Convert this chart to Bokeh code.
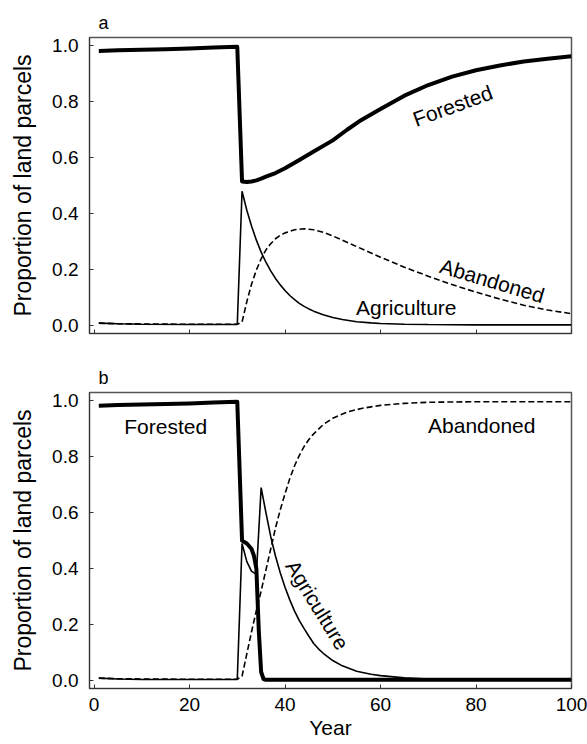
from bokeh.plotting import figure
from bokeh.layouts import column
from bokeh.models import Range1d, FixedTicker, PrintfTickFormatter
from bokeh.core.properties import value
from bokeh.embed import file_html
from bokeh.resources import INLINE

# ---------------- data: panel a ----------------
years_a_forest = [1, 5, 10, 15, 20, 25, 30, 31, 32, 33, 34, 35, 36, 38, 40, 43, 46,
                  50, 53, 56, 60, 65, 70, 75, 80, 85, 90, 95, 100]
forest_a = [0.982, 0.984, 0.986, 0.988, 0.991, 0.994, 0.997, 0.515, 0.513, 0.515,
            0.519, 0.525, 0.532, 0.545, 0.562, 0.592, 0.622, 0.662, 0.700, 0.735,
            0.774, 0.822, 0.860, 0.890, 0.913, 0.930, 0.944, 0.954, 0.963]

years_a_agri = [1, 5, 10, 20, 30, 31, 32, 33, 34, 35, 36, 37, 38, 39, 40, 41, 42,
                43, 44, 45, 46, 48, 50, 52, 55, 58, 60, 65, 70, 80, 100]
agri_a = [0.008, 0.006, 0.004, 0.003, 0.003, 0.480, 0.412, 0.355, 0.305, 0.262,
          0.226, 0.195, 0.168, 0.145, 0.125, 0.107, 0.092, 0.079, 0.068, 0.059,
          0.051, 0.038, 0.028, 0.021, 0.013, 0.009, 0.007, 0.004, 0.003, 0.002, 0.002]

years_a_aband = [1, 5, 10, 20, 30, 31, 32, 33, 34, 35, 36, 37, 38, 39, 40, 42, 44,
                 46, 48, 50, 55, 60, 65, 70, 75, 80, 85, 90, 95, 100]
aband_a = [0.008, 0.006, 0.005, 0.004, 0.004, 0.012, 0.085, 0.148, 0.198, 0.238,
           0.270, 0.292, 0.310, 0.322, 0.331, 0.342, 0.346, 0.342, 0.333, 0.320,
           0.282, 0.244, 0.208, 0.176, 0.146, 0.119, 0.094, 0.072, 0.055, 0.042]

# ---------------- data: panel b ----------------
years_b_forest = [1, 5, 10, 15, 20, 25, 30, 31, 32, 33, 33.5, 34, 34.5, 35, 35.5,
                  36, 40, 50, 60, 70, 80, 90, 100]
forest_b = [0.983, 0.985, 0.987, 0.989, 0.991, 0.994, 0.997, 0.500, 0.490, 0.470,
            0.445, 0.400, 0.180, 0.030, 0.005, 0.002, 0.002, 0.002, 0.002, 0.002,
            0.002, 0.002, 0.002]

years_b_agri = [1, 5, 10, 20, 30, 31, 32, 33, 34, 35, 36, 37, 38, 39, 40, 41, 42,
                43, 44, 45, 46, 47, 48, 50, 52, 55, 58, 60, 65, 70, 80, 100]
agri_b = [0.008, 0.005, 0.003, 0.003, 0.003, 0.490, 0.425, 0.390, 0.380, 0.690,
          0.600, 0.515, 0.445, 0.385, 0.333, 0.288, 0.248, 0.214, 0.185, 0.158,
          0.132, 0.113, 0.097, 0.071, 0.052, 0.033, 0.022, 0.017, 0.009, 0.005,
          0.002, 0.001]

years_b_aband = [1, 5, 10, 20, 30, 31, 32, 33, 34, 35, 36, 37, 38, 39, 40, 41, 42,
                 43, 44, 45, 46, 48, 50, 53, 56, 60, 65, 70, 80, 90, 100]
aband_b = [0.008, 0.006, 0.005, 0.004, 0.004, 0.015, 0.095, 0.175, 0.250, 0.320,
           0.395, 0.470, 0.545, 0.610, 0.668, 0.722, 0.768, 0.805, 0.837, 0.862,
           0.882, 0.915, 0.938, 0.960, 0.973, 0.984, 0.991, 0.995, 0.997, 0.997, 0.997]

x_ticks = [0, 20, 40, 60, 80, 100]
y_ticks = [0, 0.2, 0.4, 0.6, 0.8, 1.0]

FONT = "Liberation Sans"


def make_panel(letter, show_x_labels, border_top, border_bottom):
    p = figure(frame_width=482, frame_height=296,
               x_range=Range1d(-0.95, 100), y_range=Range1d(-0.029, 1.03),
               output_backend="svg", toolbar_location=None,
               min_border_left=89, min_border_right=16,
               min_border_top=border_top, min_border_bottom=border_bottom)
    p.background_fill_color = "white"
    p.border_fill_color = "white"
    p.grid.visible = False
    p.outline_line_color = "#555555"
    p.outline_line_width = 1.5

    p.title.text = letter
    p.title.text_font = FONT
    p.title.text_font_size = "18px"
    p.title.text_font_style = "normal"
    p.title.text_color = "black"
    p.title.align = "left"
    p.title.offset = 9
    p.title.standoff = 10

    for ax in (p.xaxis[0], p.yaxis[0]):
        ax.axis_line_color = "#333333"
        ax.axis_line_width = 1
        ax.major_tick_in = 4
        ax.major_tick_out = 0
        ax.minor_tick_line_color = None
        ax.major_tick_line_color = "#333333"
        ax.major_label_text_font = FONT
        ax.major_label_text_font_size = "19px"
        ax.major_label_text_color = "black"
        ax.axis_label_text_font = FONT
        ax.axis_label_text_font_style = "normal"
        ax.axis_label_text_color = "black"

    p.xaxis.ticker = FixedTicker(ticks=x_ticks)
    p.yaxis.ticker = FixedTicker(ticks=y_ticks)
    p.yaxis.formatter = PrintfTickFormatter(format="%.1f")
    p.yaxis.major_label_standoff = 11
    p.yaxis.axis_label = "Proportion of land parcels"
    p.yaxis.axis_label_text_font_size = "23px"
    p.yaxis.axis_label_standoff = 13

    if show_x_labels:
        p.xaxis.major_label_standoff = 9
        p.xaxis.axis_label = "Year"
        p.xaxis.axis_label_text_font_size = "21px"
        p.xaxis.axis_label_standoff = 2
    else:
        p.xaxis.major_label_overrides = {t: "" for t in x_ticks}
        p.xaxis.major_label_standoff = 0
    return p


def add_text(p, x, y, txt, angle=0.0):
    p.text(x=[x], y=[y], text=[txt], angle=angle, text_align="center",
           text_baseline="middle", text_font=value(FONT),
           text_font_size="21px", text_color="black")


# ---------- panel a ----------
pa = make_panel("a", False, 37, 20)
pa.line(years_a_agri, agri_a, line_color="black", line_width=1.6)
pa.line(years_a_aband, aband_a, line_color="black", line_width=1.6, line_dash="6 3")
pa.line(years_a_forest, forest_a, line_color="black", line_width=4, line_join="round")
add_text(pa, 75.1, 0.786, "Forested", 0.35)
add_text(pa, 83.4, 0.16, "Abandoned", -0.29)
add_text(pa, 65.4, 0.065, "Agriculture")

# ---------- panel b ----------
pb = make_panel("b", True, 39, 55)
pb.line(years_b_agri, agri_b, line_color="black", line_width=1.6)
pb.line(years_b_aband, aband_b, line_color="black", line_width=1.6, line_dash="6 3")
pb.line(years_b_forest, forest_b, line_color="black", line_width=4, line_join="round")
add_text(pb, 15, 0.91, "Forested")
add_text(pb, 81.2, 0.913, "Abandoned")
add_text(pb, 46.8, 0.27, "Agriculture", -1.02)

layout = column(pa, pb, spacing=0)
open("out.html", "w").write(file_html(layout, INLINE))
